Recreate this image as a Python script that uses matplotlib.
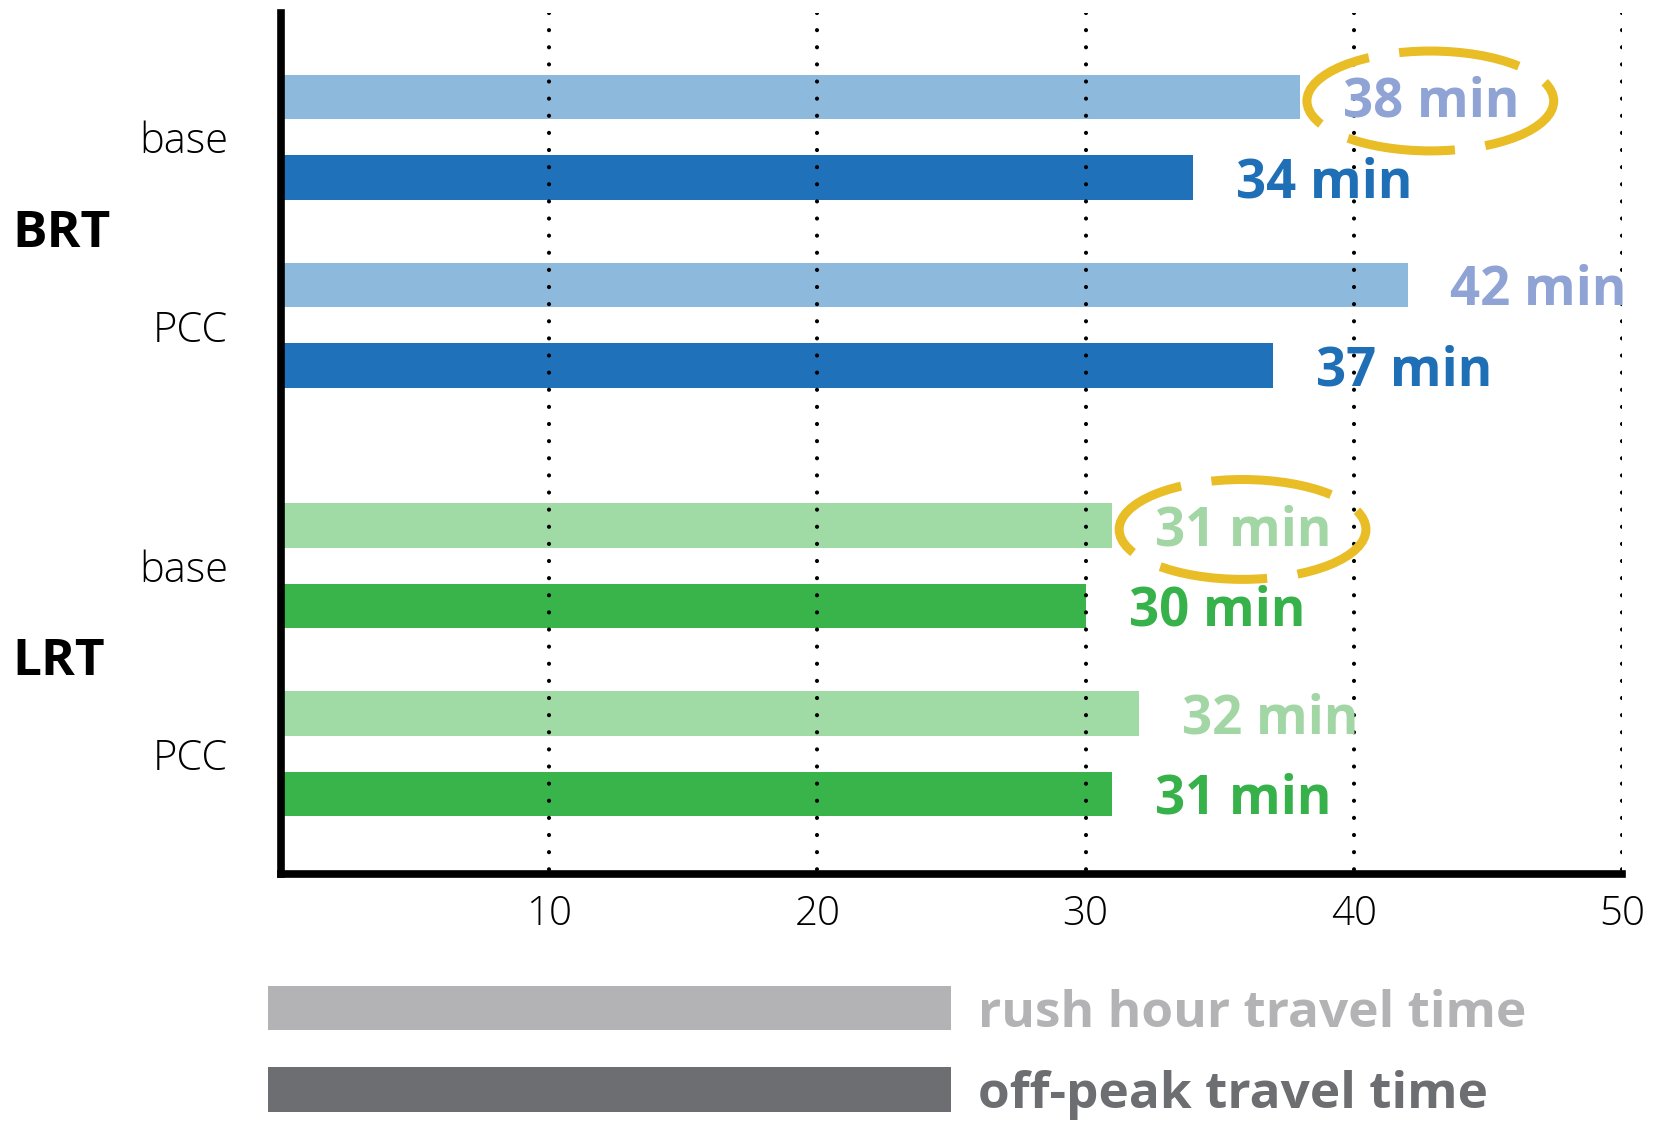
import matplotlib.pyplot as plt
from matplotlib.patches import Ellipse

# data
modes = ['BRT', 'LRT']
scenarios = ['base', 'PCC']
rush_minutes = [[38, 42], [31, 32]]      # [mode][scenario]
offpeak_minutes = [[34, 37], [30, 31]]
circled = [(0, 0), (1, 0)]               # rush-hour values ringed in gold
xticks = [10, 20, 30, 40, 50]
legend_labels = ['rush hour travel time', 'off-peak travel time']

# colours
rush_colors = ['#8DB9DC', '#A0DBA6']
offpeak_colors = ['#1F72BA', '#38B44A']
rush_text_colors = ['#8FA3D5', '#A3D6A5']
offpeak_text_colors = ['#1F6FB7', '#37B24A']
legend_colors = ['#B3B3B5', '#6D6E71']
ring_color = '#E9BD26'

# layout (y in row units, x in minutes)
first_row = 1.046
pair_step = 1.0
scen_step = 2.335
mode_step = 5.32
bar_h = 0.553
y_bottom = 10.70
label_gap = 1.6
text_dy = 0.07   # nudge text down so the digits sit on the bar centre

plt.rcParams['font.family'] = ['Open Sans', 'DejaVu Sans']

fig = plt.figure(figsize=(16.62, 11.24), dpi=100)
ax = fig.add_axes([0.169, 0.222, 0.807, 0.7667])

ytick_pos, ytick_lab = [], []
for m, mode in enumerate(modes):
    g = first_row + m * mode_step
    for s, scen in enumerate(scenarios):
        y_r = g + s * scen_step
        y_o = y_r + pair_step
        r = rush_minutes[m][s]
        o = offpeak_minutes[m][s]
        ax.barh(y_r, r, height=bar_h, color=rush_colors[m], zorder=2)
        ax.barh(y_o, o, height=bar_h, color=offpeak_colors[m], zorder=2)
        ax.text(r + label_gap, y_r + text_dy, f'{r} min', color=rush_text_colors[m],
                fontsize=38, fontweight='bold', ha='left', va='center', zorder=4)
        ax.text(o + label_gap, y_o + text_dy, f'{o} min', color=offpeak_text_colors[m],
                fontsize=38, fontweight='bold', ha='left', va='center', zorder=4)
        if (m, s) in circled:
            ax.add_patch(Ellipse((r + label_gap + 3.25, y_r + 0.05), 9.2, 1.24,
                                 fill=False, edgecolor=ring_color, lw=6.5,
                                 ls=(2, (12, 3.4)), clip_on=False, zorder=5))
        ytick_pos.append((y_r + y_o) / 2)
        ytick_lab.append(scen)
    ax.text(-10.0, g + (scen_step + pair_step) / 2 + 0.03, mode, fontsize=37,
            fontweight='bold', ha='left', va='center')

# dotted grid on top of bars
grid = ax.vlines(xticks, 0, y_bottom, colors='black', lw=3,
                 linestyles=[(0, (0.01, 4.1))], zorder=3)
grid.set_capstyle('round')

ax.set_xlim(0, 50)
ax.set_ylim(y_bottom, 0)
ax.set_xticks(xticks)
ax.set_xticklabels([str(t) for t in xticks], fontsize=29, fontweight='light')
ax.set_yticks(ytick_pos)
ax.set_yticklabels(ytick_lab, fontsize=30, fontweight='light')
ax.tick_params(axis='x', length=0, pad=14)
ax.tick_params(axis='y', length=0, pad=38)
for side in ['top', 'right']:
    ax.spines[side].set_visible(False)
for side in ['left', 'bottom']:
    ax.spines[side].set_linewidth(5.5)

# legend below the chart
lax = fig.add_axes([0.169, 0.0, 0.807, 0.1637])
lax.set_xlim(0, 50)
lax.set_ylim(2.286, 0)
lax.axis('off')
leg_y = [0.845, 1.857]
lax.barh(leg_y, 25.47, left=-0.47, height=bar_h, color=legend_colors, clip_on=False)
for y, lab, c in zip(leg_y, legend_labels, legend_colors):
    lax.text(26.0, y + text_dy, lab, color=c, fontsize=37, fontweight='bold',
             ha='left', va='center')

fig.savefig('out.png', dpi=100)
